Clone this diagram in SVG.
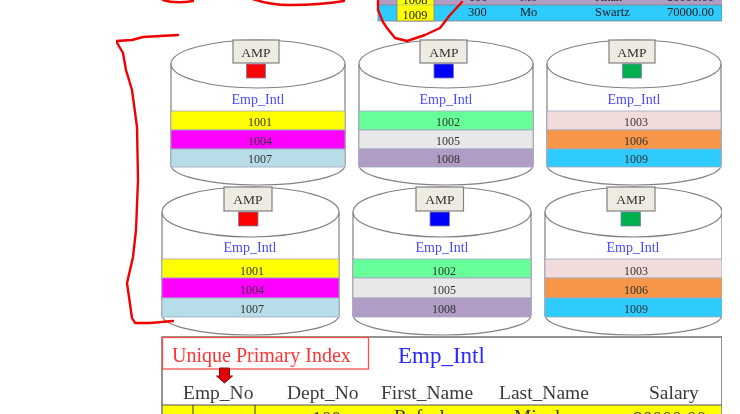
<svg xmlns="http://www.w3.org/2000/svg" width="740" height="414" viewBox="0 0 740 414">
<defs>
<style>
text{font-family:"Liberation Serif","Times New Roman",serif;fill:#333}
.body{fill:#fff;stroke:#808080;stroke-width:1.2}
.top{fill:#fff;stroke:#808080;stroke-width:1.2}
.row{stroke:#a6a6c0;stroke-width:.8}
.amp{fill:#eeece1;stroke:#808080;stroke-width:1.2}
.proc{stroke:#7f7f9f;stroke-width:.8}
.amptxt{font-size:13.5px;text-anchor:middle}
.tbl{font-size:14px;text-anchor:middle;fill:#4a4aff}
.num{font-size:12px;text-anchor:middle}
.rw{font-size:12.5px;fill:#222}
.hd{font-size:19.5px;fill:#3a3a3a}
.big{font-size:19.5px;fill:#333}
.ink{fill:none;stroke:#f00000;stroke-width:2.4;stroke-linecap:round;stroke-linejoin:round}
.c1{fill:#ffff00}.c2{fill:#ff00ff}.c3{fill:#b7dde8}.c4{fill:#66ff99}.c5{fill:#e8e8e8}.c6{fill:#b09cc4}.c7{fill:#f2dcdb}.c8{fill:#f79646}.c9{fill:#2ecbff}
</style>
<filter id="soft" x="0" y="0" width="100%" height="100%" filterUnits="objectBoundingBox"><feGaussianBlur stdDeviation="0.55"/></filter>
</defs>
<rect width="740" height="414" fill="#fff"/>
<g filter="url(#soft)">
<g id="table-top">
<rect x="378" y="-10" width="344" height="15" class="c6"/>
<rect x="378" y="5" width="344" height="16" class="c9" stroke="#808080" stroke-width=".8"/>
<rect x="397" y="-10" width="37" height="31" class="c1" stroke="#808080" stroke-width=".8"/>
<line x1="397" y1="5" x2="434" y2="5" stroke="#a6a6a6" stroke-width=".6"/>
<text class="rw" x="415" y="4" text-anchor="middle">1008</text>
<text class="rw" x="415" y="19" text-anchor="middle">1009</text>
<text class="rw" x="478" y="1" text-anchor="middle">100</text>
<text class="rw" x="520" y="1">Mo</text>
<text class="rw" x="595" y="1">Khan</text>
<text class="rw" x="667" y="1">80000.00</text>
<text class="rw" x="468" y="16">300</text>
<text class="rw" x="520" y="16">Mo</text>
<text class="rw" x="595" y="15.500">Swartz</text>
<text class="rw" x="667" y="16">70000.00</text>
</g>
<g id="amp-top-1">
<path class="body" d="M171 64V165A87 20 0 0 0 345 165V64"/><ellipse class="top" cx="258" cy="64" rx="87" ry="24"/>
<rect class="row c1" x="171" y="111" width="174" height="19"/><rect class="row c2" x="171" y="130" width="174" height="19"/><path class="row c3" d="M171 149H345V167H171Z"/>
<rect class="amp" x="233" y="40" width="46" height="23"/><rect class="proc" x="246.500" y="64" width="19" height="14" fill="#ff0000"/>
<text class="amptxt" x="256" y="57">AMP</text><text class="tbl" x="258" y="104">Emp_Intl</text>
<text class="num" x="260" y="126">1001</text><text class="num" x="260" y="145">1004</text><text class="num" x="260" y="163">1007</text>
</g>
<g id="amp-top-2">
<path class="body" d="M359 64V165A87 20 0 0 0 533 165V64"/><ellipse class="top" cx="446" cy="64" rx="87" ry="24"/>
<rect class="row c4" x="359" y="111" width="174" height="19"/><rect class="row c5" x="359" y="130" width="174" height="19"/><rect class="row c6" x="359" y="149" width="174" height="18"/>
<rect class="amp" x="420" y="40" width="47" height="23"/><rect class="proc" x="434" y="64" width="19.500" height="14" fill="#0000ff"/>
<text class="amptxt" x="444" y="57">AMP</text><text class="tbl" x="446" y="104">Emp_Intl</text>
<text class="num" x="448" y="126">1002</text><text class="num" x="448" y="145">1005</text><text class="num" x="448" y="163">1008</text>
</g>
<g id="amp-top-3">
<path class="body" d="M547 64V165A87 20 0 0 0 721 165V64"/><ellipse class="top" cx="634" cy="64" rx="87" ry="24"/>
<rect class="row c7" x="547" y="111" width="174" height="19"/><rect class="row c8" x="547" y="130" width="174" height="19"/><rect class="row c9" x="547" y="149" width="174" height="18"/>
<rect class="amp" x="609" y="40" width="46" height="23"/><rect class="proc" x="622.500" y="64" width="19" height="14" fill="#00b050"/>
<text class="amptxt" x="632" y="57">AMP</text><text class="tbl" x="634" y="104">Emp_Intl</text>
<text class="num" x="636" y="126">1003</text><text class="num" x="636" y="145">1006</text><text class="num" x="636" y="163">1009</text>
</g>
<g id="amp-bottom-1">
<path class="body" d="M162 212V315A88.500 20 0 0 0 339 315V212"/><ellipse class="top" cx="250.500" cy="212" rx="88.500" ry="25"/>
<rect class="row c1" x="162" y="259" width="177" height="19"/><rect class="row c2" x="162" y="278" width="177" height="20"/><rect class="row c3" x="162" y="298" width="177" height="19"/>
<rect class="amp" x="224" y="187" width="48" height="24"/><rect class="proc" x="238.500" y="212" width="19.500" height="14" fill="#ff0000"/>
<text class="amptxt" x="248" y="204">AMP</text><text class="tbl" x="250" y="252">Emp_Intl</text>
<text class="num" x="252" y="275">1001</text><text class="num" x="252" y="294">1004</text><text class="num" x="252" y="313">1007</text>
</g>
<g id="amp-bottom-2">
<path class="body" d="M353 212V315A89 20 0 0 0 531 315V212"/><ellipse class="top" cx="442" cy="212" rx="89" ry="25"/>
<rect class="row c4" x="353" y="259" width="178" height="19"/><rect class="row c5" x="353" y="278" width="178" height="20"/><rect class="row c6" x="353" y="298" width="178" height="19"/>
<rect class="amp" x="416" y="187" width="47.500" height="24"/><rect class="proc" x="430" y="212" width="19.500" height="14" fill="#0000ff"/>
<text class="amptxt" x="440" y="204">AMP</text><text class="tbl" x="442" y="252">Emp_Intl</text>
<text class="num" x="444" y="275">1002</text><text class="num" x="444" y="294">1005</text><text class="num" x="444" y="313">1008</text>
</g>
<g id="amp-bottom-3">
<path class="body" d="M545 212V315A88.500 20 0 0 0 722 315V212"/><ellipse class="top" cx="633.500" cy="212" rx="88.500" ry="25"/>
<rect class="row c7" x="545" y="259" width="177" height="19"/><rect class="row c8" x="545" y="278" width="177" height="20"/><rect class="row c9" x="545" y="298" width="177" height="19"/>
<rect class="amp" x="607" y="187" width="48" height="24"/><rect class="proc" x="621" y="212" width="19.500" height="14" fill="#00b050"/>
<text class="amptxt" x="631" y="204">AMP</text><text class="tbl" x="633" y="252">Emp_Intl</text>
<text class="num" x="636" y="275">1003</text><text class="num" x="636" y="294">1006</text><text class="num" x="636" y="313">1009</text>
</g>
<g id="table-bottom">
<rect x="162" y="337" width="560" height="90" fill="#fff" stroke="#666" stroke-width="1.400"/>
<rect x="163" y="405" width="558" height="12" class="c1"/>
<line x1="162" y1="405" x2="722" y2="405" stroke="#555" stroke-width="1.200"/>
<line x1="193" y1="405" x2="193" y2="414" stroke="#333" stroke-width="1"/>
<line x1="255" y1="405" x2="255" y2="414" stroke="#333" stroke-width="1"/>
<text x="398" y="363" font-size="23" style="fill:#2a2aff">Emp_Intl</text>
<text class="hd" x="183" y="399">Emp_No</text>
<text class="hd" x="287" y="399">Dept_No</text>
<text class="hd" x="381" y="399">First_Name</text>
<text class="hd" x="499" y="399">Last_Name</text>
<text class="hd" x="649" y="399">Salary</text>
<text class="big" x="312" y="425">100</text>
<text class="big" x="394" y="423">Rafael</text>
<text class="big" x="514" y="423">Minch</text>
<text class="big" x="633" y="425">90000.00</text>
</g>
<g id="index-label">
<rect x="162.500" y="337.500" width="206" height="31.500" fill="#fff" stroke="#ff4d4d" stroke-width="1.300"/>
<text x="172" y="362" font-size="20" style="fill:#ff3333">Unique Primary Index</text>
</g>
<g id="connectors">
<polygon points="219.500,368 229.500,368 229.500,376 232.500,376 224.500,383 216.500,376 219.500,376" fill="#e00000" stroke="#7a1010" stroke-width="1"/>
<g class="ink">
<path d="M163 0Q175 4 193 1"/>
<path d="M253 -1Q270 5 290 5Q320 5 344 1"/>
<path d="M378 -1L378 10L383 22L387 28L395 38L407 41L425 35L440 28L450 15L462 2"/>
<path d="M178 35L143 37L132 40L116 41L123 53L126 70L132 90L137 127L138 180L136 230L133 257L127 283L132 318L135 323L150 323L173 321"/>
</g>
</g>
</g>
</svg>
